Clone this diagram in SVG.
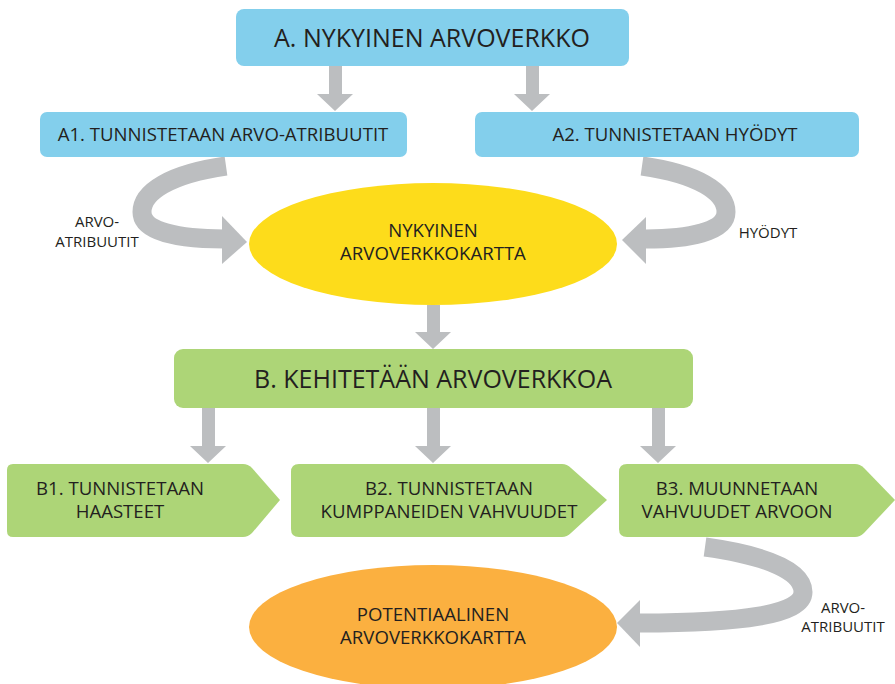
<svg xmlns="http://www.w3.org/2000/svg" width="895" height="684" viewBox="0 0 895 684">
<style>
text{font-family:"Open Sans","Noto Sans","Liberation Sans",sans-serif;fill:#231f20;text-anchor:middle}
.big{font-size:25px}
.mid{font-size:18.6px}
.sm{font-size:15px}
.blue{fill:#83cfec}
.green{fill:#add577}
.arr{fill:#bcbec0}
.band{fill:none;stroke:#bcbec0;stroke-width:19}
</style>
<g id="connectors">
<path class="arr" d="M329,66 H342 V94 H353 L335,111 L317,94 H329 Z"/>
<path class="arr" d="M526,66 H539 V94 H550 L532,111 L514,94 H526 Z"/>
<path class="band" d="M226,166 C170,174 142,192 142,212 C142,232 180,239 224,239"/>
<path class="arr" d="M222,216 L247,242 L222,264 Z"/>
<path class="band" d="M642,166 C698,174 726,192 726,212 C726,232 688,239 646,239"/>
<path class="arr" d="M646,217 L622,240 L646,264 Z"/>
<path class="arr" d="M427,305 H440 V332 H451 L433,349 L415,332 H427 Z"/>
<path class="arr" d="M202,408 H215 V446 H226 L208,463 L190,446 H202 Z"/>
<path class="arr" d="M427,408 H440 V446 H451 L433,463 L415,446 H427 Z"/>
<path class="arr" d="M652,408 H665 V446 H676 L658,463 L640,446 H652 Z"/>
<path class="band" stroke-width="20" d="M705,547 C770,556 803,572 803,592 C803,615 740,623 640,623"/>
<path class="arr" d="M640,600 L617,623 L640,647 Z"/>
</g>
<g id="nodeA">
<rect class="blue" x="236" y="9" width="393" height="57" rx="8"/>
<text class="big" x="432" y="47">A. NYKYINEN ARVOVERKKO</text>
</g>
<g id="nodeA1">
<rect class="blue" x="40" y="112" width="367" height="45" rx="7"/>
<text class="mid" x="223" y="141">A1. TUNNISTETAAN ARVO-ATRIBUUTIT</text>
</g>
<g id="nodeA2">
<rect class="blue" x="475" y="112" width="384" height="45" rx="7"/>
<text class="mid" x="675" y="141">A2. TUNNISTETAAN HYÖDYT</text>
</g>
<g id="labelA1">
<text class="sm" x="97" y="227">ARVO-</text>
<text class="sm" x="97" y="247">ATRIBUUTIT</text>
</g>
<g id="labelA2">
<text class="sm" x="768" y="238">HYÖDYT</text>
</g>
<g id="nodeMap1">
<ellipse cx="433" cy="244" rx="184" ry="61" fill="#fddc1b"/>
<text class="mid" x="433" y="237">NYKYINEN</text>
<text class="mid" x="433" y="260">ARVOVERKKOKARTTA</text>
</g>
<g id="nodeB">
<rect class="green" x="174" y="349" width="519" height="59" rx="9"/>
<text class="big" x="433" y="388">B. KEHITETÄÄN ARVOVERKKOA</text>
</g>
<g id="nodeB1">
<path class="green" d="M13,464 H243 Q248,464 252,468 L280,500 L252,533 Q248,537 243,537 H13 Q7,537 7,531 V470 Q7,464 13,464 Z"/>
<text class="mid" x="120" y="495">B1. TUNNISTETAAN</text>
<text class="mid" x="120" y="518">HAASTEET</text>
</g>
<g id="nodeB2">
<path class="green" d="M299,464 H562 Q567,464 571,468 L607,500 L571,533 Q567,537 562,537 H299 Q291,537 291,529 V472 Q291,464 299,464 Z"/>
<text class="mid" x="449" y="495">B2. TUNNISTETAAN</text>
<text class="mid" x="449" y="518">KUMPPANEIDEN VAHVUUDET</text>
</g>
<g id="nodeB3">
<path class="green" d="M627,464 H855 Q860,464 864,468 L895,500 L864,533 Q860,537 855,537 H627 Q619,537 619,529 V472 Q619,464 627,464 Z"/>
<text class="mid" x="737" y="495">B3. MUUNNETAAN</text>
<text class="mid" x="737" y="518">VAHVUUDET ARVOON</text>
</g>
<g id="labelB3">
<text class="sm" x="843" y="613">ARVO-</text>
<text class="sm" x="843" y="632">ATRIBUUTIT</text>
</g>
<g id="nodeMap2">
<ellipse cx="433" cy="627" rx="184" ry="62" fill="#fbb040"/>
<text class="mid" x="433" y="621">POTENTIAALINEN</text>
<text class="mid" x="433" y="644">ARVOVERKKOKARTTA</text>
</g>
</svg>
